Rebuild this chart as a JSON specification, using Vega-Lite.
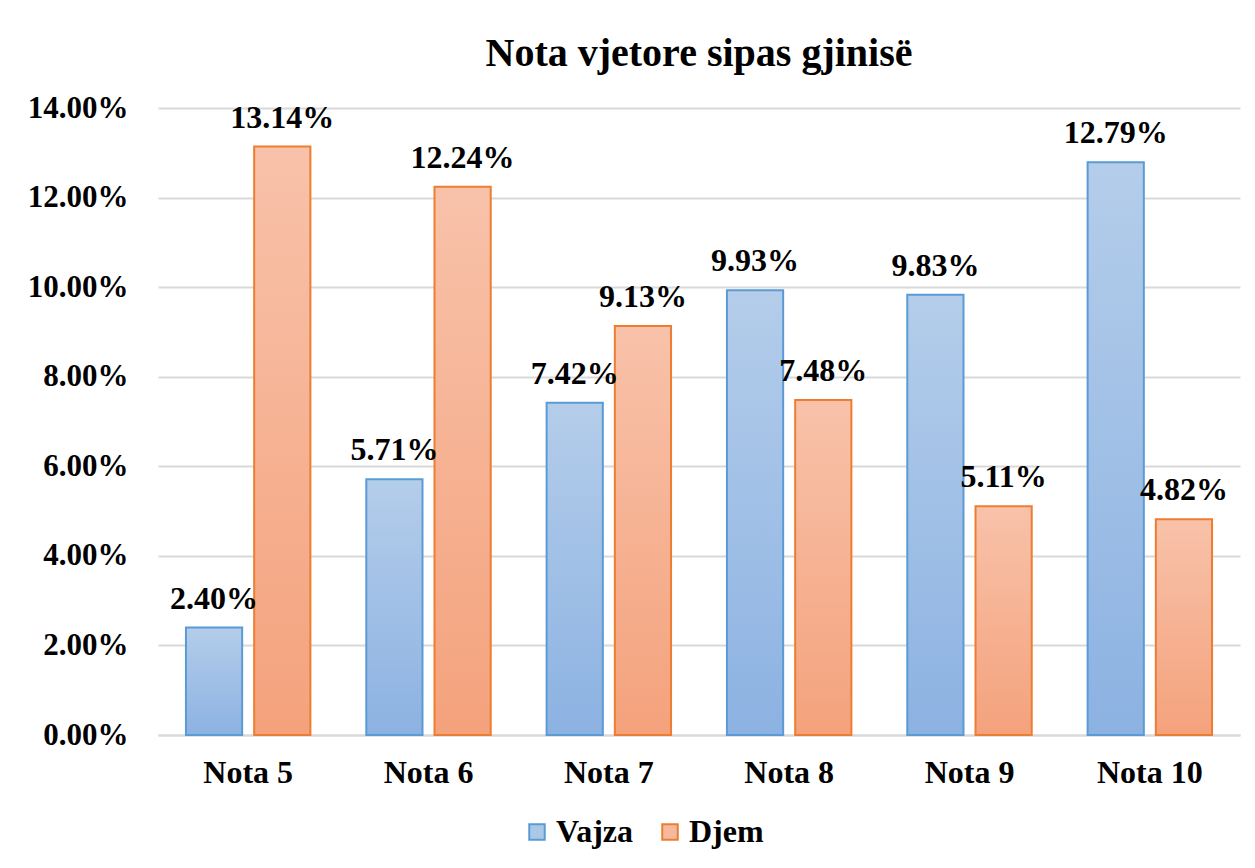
{
  "$schema": "https://vega.github.io/schema/vega-lite/v6.json",
  "width": 1082,
  "height": 627,
  "autosize": {"type": "none"},
  "padding": {"left": 158, "top": 108, "right": 15, "bottom": 133},
  "background": "white",
  "title": {
    "text": "Nota vjetore sipas gjinisë",
    "font": "Liberation Serif",
    "fontSize": 40,
    "fontWeight": "bold",
    "color": "#000000",
    "anchor": "middle",
    "offset": 18
  },
  "config": {
    "view": {"stroke": null},
    "font": "Liberation Serif",
    "legend": {
      "title": null,
      "orient": "none",
      "legendX": 363,
      "legendY": 708,
      "direction": "horizontal",
      "symbolType": "square",
      "symbolSize": 240,
      "symbolStrokeWidth": 2,
      "symbolOpacity": 1,
      "labelFont": "Liberation Serif",
      "labelFontSize": 32,
      "labelFontWeight": "bold",
      "labelColor": "#000000",
      "columnPadding": 20,
      "labelOffset": 3
    }
  },
  "data": {
    "values": [
      {"nota": "Nota 5", "g": "Vajza", "v": 0.0240},
      {"nota": "Nota 5", "g": "Djem", "v": 0.1314},
      {"nota": "Nota 6", "g": "Vajza", "v": 0.0571},
      {"nota": "Nota 6", "g": "Djem", "v": 0.1224},
      {"nota": "Nota 7", "g": "Vajza", "v": 0.0742},
      {"nota": "Nota 7", "g": "Djem", "v": 0.0913},
      {"nota": "Nota 8", "g": "Vajza", "v": 0.0993},
      {"nota": "Nota 8", "g": "Djem", "v": 0.0748},
      {"nota": "Nota 9", "g": "Vajza", "v": 0.0983},
      {"nota": "Nota 9", "g": "Djem", "v": 0.0511},
      {"nota": "Nota 10", "g": "Vajza", "v": 0.1279},
      {"nota": "Nota 10", "g": "Djem", "v": 0.0482}
    ]
  },
  "encoding": {
    "x": {
      "field": "nota",
      "type": "nominal",
      "sort": null,
      "scale": {"paddingInner": 0.31, "paddingOuter": 0.155},
      "axis": {
        "title": null,
        "labelAngle": 0,
        "labelFont": "Liberation Serif",
        "labelFontSize": 32,
        "labelFontWeight": "bold",
        "labelColor": "#000000",
        "labelPadding": 22,
        "ticks": false,
        "domainColor": "#d9d9d9",
        "domainWidth": 2
      }
    },
    "xOffset": {
      "field": "g",
      "type": "nominal",
      "sort": ["Vajza", "Djem"],
      "scale": {"paddingInner": 0.176}
    },
    "y": {
      "field": "v",
      "type": "quantitative",
      "scale": {"domain": [0, 0.14], "nice": false},
      "axis": {
        "title": null,
        "format": ".2%",
        "values": [0, 0.02, 0.04, 0.06, 0.08, 0.10, 0.12, 0.14],
        "labelFont": "Liberation Serif",
        "labelFontSize": 31,
        "labelFontWeight": "bold",
        "labelColor": "#000000",
        "labelPadding": 30,
        "ticks": false,
        "domain": false,
        "gridColor": "#d9d9d9",
        "gridWidth": 2
      }
    }
  },
  "layer": [
    {
      "transform": [{"filter": "false"}],
      "mark": {"type": "bar", "strokeWidth": 2},
      "encoding": {
        "color": {
          "field": "g",
          "type": "nominal",
          "sort": ["Vajza", "Djem"],
          "scale": {"domain": ["Vajza", "Djem"], "range": ["#abc8e9", "#f7b99d"]}
        },
        "stroke": {
          "field": "g",
          "type": "nominal",
          "sort": ["Vajza", "Djem"],
          "scale": {"domain": ["Vajza", "Djem"], "range": ["#5b9bd5", "#ed7d31"]}
        }
      }
    },
    {
      "mark": {"type": "bar", "strokeWidth": 2},
      "encoding": {
        "stroke": {
          "field": "g",
          "type": "nominal",
          "sort": ["Vajza", "Djem"]
        },
        "fill": {
          "condition": {
            "test": "datum.g === 'Vajza'",
            "value": {
              "gradient": "linear", "x1": 0, "y1": 0, "x2": 0, "y2": 1,
              "stops": [{"offset": 0, "color": "#b4cdea"}, {"offset": 1, "color": "#8cb2e2"}]
            }
          },
          "value": {
            "gradient": "linear", "x1": 0, "y1": 0, "x2": 0, "y2": 1,
            "stops": [{"offset": 0, "color": "#f8c2aa"}, {"offset": 1, "color": "#f4a27c"}]
          }
        }
      }
    },
    {
      "mark": {
        "type": "text",
        "font": "Liberation Serif",
        "fontSize": 32,
        "fontWeight": "bold",
        "color": "#000000",
        "baseline": "bottom",
        "dy": -12
      },
      "encoding": {
        "text": {"field": "v", "type": "quantitative", "format": ".2%"}
      }
    }
  ]
}
